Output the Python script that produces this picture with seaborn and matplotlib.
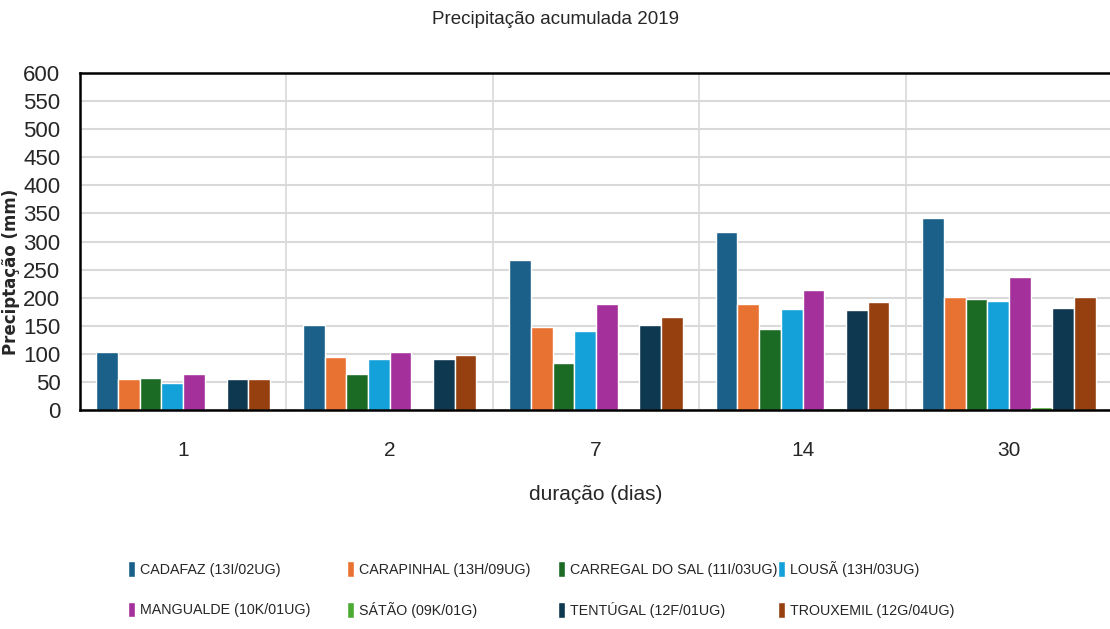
import pandas as pd
import matplotlib.pyplot as plt
import seaborn as sns
from matplotlib.patches import Patch

# data
durations = ["1", "2", "7", "14", "30"]
stations = ["CADAFAZ (13I/02UG)", "CARAPINHAL (13H/09UG)", "CARREGAL DO SAL (11I/03UG)",
            "LOUSÃ (13H/03UG)", "MANGUALDE (10K/01UG)", "SÁTÃO (09K/01G)",
            "TENTÚGAL (12F/01UG)", "TROUXEMIL (12G/04UG)"]
cadafaz = [104, 151, 267, 317, 342]
carapinhal = [56, 94, 148, 189, 202]
carregal = [58, 65, 84, 145, 197]
lousa = [49, 91, 140, 180, 195]
mangualde = [65, 103, 189, 214, 236]
satao = [0, 0, 2, 4, 5]
tentugal = [56, 91, 152, 179, 181]
trouxemil = [56, 98, 165, 193, 202]
colors = ["#1a6089", "#e87232", "#1c6b24", "#14a0d9", "#a4309b", "#4caa33", "#0d3850", "#97400f"]

series = [cadafaz, carapinhal, carregal, lousa, mangualde, satao, tentugal, trouxemil]
rows = []
for st, vals in zip(stations, series):
    for d, v in zip(durations, vals):
        rows.append({"duracao": d, "estacao": st, "prec": v})
df = pd.DataFrame(rows)

sns.set_style("white")
plt.rcParams["font.family"] = ["Liberation Sans", "DejaVu Sans"]

fig = plt.figure(figsize=(11.1, 6.29), dpi=100)
ax = fig.add_axes([0.072, 0.348, 0.93, 0.536])

sns.barplot(data=df, x="duracao", y="prec", hue="estacao", order=durations,
            hue_order=stations, palette=colors, width=0.84, saturation=1,
            errorbar=None, ax=ax, legend=False)

ax.set_ylim(0, 600)
ax.set_yticks(range(0, 601, 50))
ax.set_xlim(-0.5, 4.5)
ax.yaxis.grid(True, color="#d9d9d9", linewidth=1.5)
for b in [0.5, 1.5, 2.5, 3.5]:
    ax.axvline(b, color="#d9d9d9", linewidth=1.2, zorder=0)
ax.set_axisbelow(True)

for side in ["top", "bottom", "left"]:
    ax.spines[side].set_color("black")
    ax.spines[side].set_linewidth(1.8)
ax.spines["right"].set_visible(False)

ax.tick_params(axis="y", length=0, pad=14, labelsize=16)
ax.tick_params(axis="x", length=0, pad=22, labelsize=15)
ax.set_xlabel("duração (dias)", fontsize=15, labelpad=18)
ax.set_ylabel("Preciptação (mm)", fontsize=12, fontweight="bold", family="DejaVu Sans")
ax.yaxis.set_label_coords(-0.058, 0.41)
fig.suptitle("Precipitação acumulada 2019", fontsize=13.5, y=0.982)

# legend: 4 fixed-width columns, 2 rows (Excel style)
col_x = [128, 347, 558, 778]
for i, x in enumerate(col_x):
    hs = [Patch(facecolor=colors[j], label=stations[j]) for j in (i, i + 4)]
    fig.legend(handles=hs, loc="upper left", bbox_to_anchor=(x / 1110, 1 - 561 / 629),
               frameon=False, fontsize=10.3, handlelength=0.5, handleheight=1.3,
               handletextpad=0.35, labelspacing=1.75, borderpad=0, borderaxespad=0)

fig.savefig("out.png", dpi=100)
